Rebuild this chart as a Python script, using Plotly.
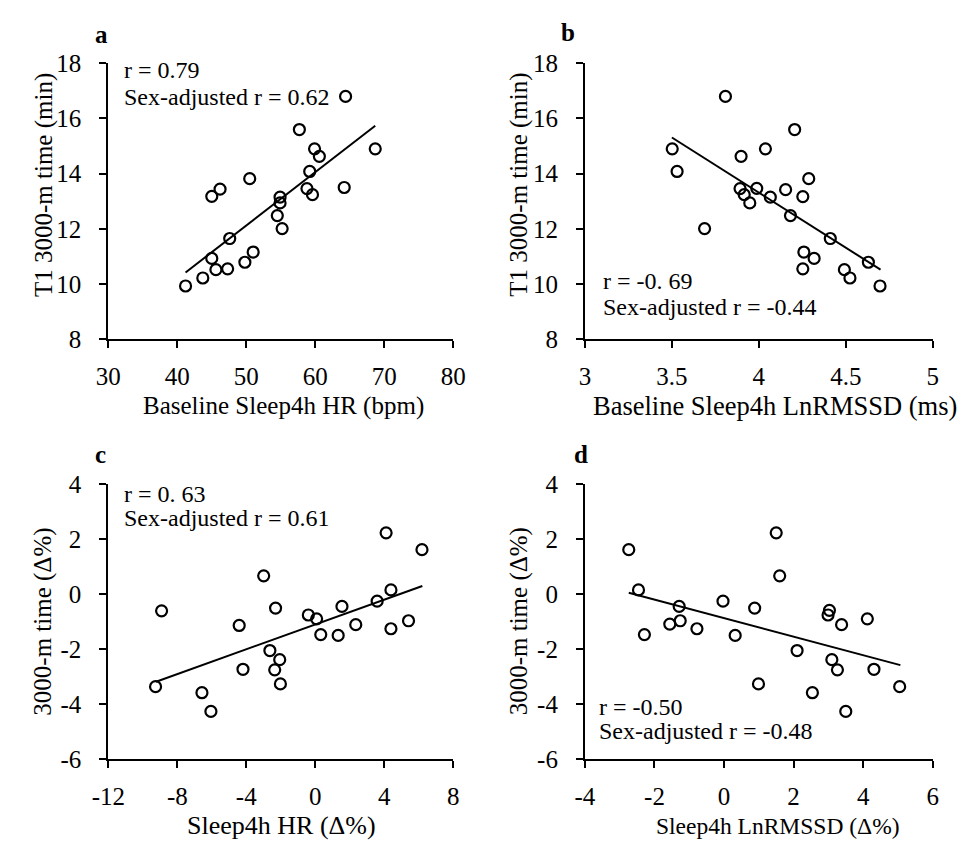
import plotly.graph_objects as go

# ---------------- data ----------------
# Panel a: Baseline Sleep4h HR (bpm) vs T1 3000-m time (min)
a_x = [64.4, 57.7, 59.9, 60.6, 68.7, 59.2, 50.5, 46.2, 45.0, 58.8, 59.6, 64.2,
       54.9, 54.9, 54.5, 55.2, 47.6, 45.0, 51.0, 49.8, 45.6, 47.3, 43.7, 41.2]
a_y = [16.80, 15.60, 14.90, 14.63, 14.90, 14.08, 13.82, 13.44, 13.18, 13.46, 13.24, 13.50,
       13.15, 12.94, 12.48, 12.01, 11.65, 10.93, 11.16, 10.79, 10.52, 10.55, 10.22, 9.93]
a_fit_x = [41.2, 68.7]
a_fit_y = [10.42, 15.74]

# Panel b: Baseline Sleep4h LnRMSSD (ms) vs T1 3000-m time (min)
b_x = [3.808, 4.206, 3.502, 4.038, 3.898, 3.530, 4.287, 3.892, 3.988, 4.154, 3.916, 4.253,
       4.066, 3.948, 4.182, 3.688, 4.411, 4.259, 4.318, 4.630, 4.492, 4.253, 4.524, 4.697]
b_y = [16.80, 15.60, 14.90, 14.90, 14.63, 14.08, 13.82, 13.46, 13.47, 13.42, 13.24, 13.17,
       13.15, 12.94, 12.48, 12.01, 11.65, 11.16, 10.93, 10.79, 10.52, 10.55, 10.22, 9.93]
b_fit_x = [3.50, 4.70]
b_fit_y = [15.31, 10.52]

# Panel c: Sleep4h HR (Δ%) vs 3000-m time (Δ%)
c_x = [4.11, 6.19, -2.99, 4.39, 3.59, 1.55, -2.30, -8.91, -0.40, 0.08, 5.41, 2.35,
       -4.41, 4.39, 0.32, 1.33, -2.63, -2.06, -4.19, -2.35, -2.02, -9.26, -6.57, -6.05]
c_y = [2.22, 1.61, 0.66, 0.15, -0.26, -0.45, -0.51, -0.61, -0.76, -0.90, -0.97, -1.11,
       -1.14, -1.26, -1.47, -1.50, -2.05, -2.38, -2.73, -2.75, -3.26, -3.36, -3.58, -4.26]
c_fit_x = [-9.23, 6.21]
c_fit_y = [-3.18, 0.29]

# Panel d: Sleep4h LnRMSSD (Δ%) vs 3000-m time (Δ%)
d_x = [1.50, -2.74, 1.60, -2.46, -0.03, 0.88, -1.29, 3.03, 2.99, 4.12, -1.26, 3.38,
       -1.56, -0.78, 0.32, -2.29, 2.10, 3.10, 4.31, 3.26, 0.99, 5.05, 2.54, 3.50]
d_y = [2.22, 1.61, 0.66, 0.15, -0.26, -0.51, -0.45, -0.59, -0.76, -0.90, -0.97, -1.11,
       -1.09, -1.26, -1.50, -1.47, -2.05, -2.38, -2.73, -2.75, -3.26, -3.36, -3.58, -4.26]
d_fit_x = [-2.74, 5.07]
d_fit_y = [0.05, -2.58]

panel_labels = ["a", "b", "c", "d"]
x_titles = ["Baseline Sleep4h HR (bpm)", "Baseline Sleep4h LnRMSSD (ms)",
            "Sleep4h HR (Δ%)", "Sleep4h LnRMSSD (Δ%)"]
y_titles = ["T1 3000-m time (min)", "T1 3000-m time (min)",
            "3000-m time (Δ%)", "3000-m time (Δ%)"]
stats_r = ["r = 0.79", "r = -0. 69", "r = 0. 63", "r = -0.50"]
stats_adj = ["Sex-adjusted r = 0.62", "Sex-adjusted r = -0.44",
             "Sex-adjusted r = 0.61", "Sex-adjusted r = -0.48"]

# tick values and labels (reference uses a plain hyphen for negatives)
x_tickvals = [[30, 40, 50, 60, 70, 80], [3, 3.5, 4, 4.5, 5],
              [-12, -8, -4, 0, 4, 8], [-4, -2, 0, 2, 4, 6]]
x_ticktext = [["30", "40", "50", "60", "70", "80"], ["3", "3.5", "4", "4.5", "5"],
              ["-12", "-8", "-4", "0", "4", "8"], ["-4", "-2", "0", "2", "4", "6"]]
y_tickvals = [[8, 10, 12, 14, 16, 18], [8, 10, 12, 14, 16, 18],
              [-6, -4, -2, 0, 2, 4], [-6, -4, -2, 0, 2, 4]]
y_ticktext = [["8", "10", "12", "14", "16", "18"], ["8", "10", "12", "14", "16", "18"],
              ["-6", "-4", "-2", "0", "2", "4"], ["-6", "-4", "-2", "0", "2", "4"]]

# ---------------- layout geometry (page pixels) ----------------
PAGE_W, PAGE_H = 968, 856
OFF = 8                      # default body margin of the html page
W, H = PAGE_W - OFF, PAGE_H - OFF
FONT = "Liberation Serif, Times New Roman, serif"


def fx(p):
    return (p - OFF) / W


def fy(p):
    return 1 - (p - OFF) / H


xdoms = [[fx(94), fx(450)], [fx(586), fx(945)]]
ydoms = [[fy(336.7), fy(51.7)], [fy(770.7), fy(486)]]

stat_px = [(108, 58.3, 86), (602.7, 276.7, 303.3),
           (108.3, 497, 521), (598.3, 716.7, 741.7)]
label_px = [(86.7, 21.7), (569, 20), (85.7, 456), (581.7, 456)]
xtitle_px = [(275, 406, 25), (782, 406, 26.5), (273, 839, 26), (785, 839, 23.5)]
ytitle_px = [(27, 177, 25), (518, 177, 25), (27, 628, 25), (518, 628, 25)]

fig = go.Figure()
data = [(a_x, a_y, a_fit_x, a_fit_y), (b_x, b_y, b_fit_x, b_fit_y),
        (c_x, c_y, c_fit_x, c_fit_y), (d_x, d_y, d_fit_x, d_fit_y)]

for i, (px, py, lx_, ly_) in enumerate(data):
    n = i + 1
    xa = "x" if n == 1 else f"x{n}"
    ya = "y" if n == 1 else f"y{n}"
    fig.add_trace(go.Scatter(x=lx_, y=ly_, mode="lines", xaxis=xa, yaxis=ya,
                             line=dict(color="black", width=2), showlegend=False,
                             hoverinfo="skip"))
    fig.add_trace(go.Scatter(x=px, y=py, mode="markers", xaxis=xa, yaxis=ya,
                             marker=dict(symbol="circle-open", size=11,
                                         color="black", line=dict(width=2.2)),
                             showlegend=False))
    col = i % 2
    row = i // 2
    axis_common = dict(showline=True, linecolor="black", linewidth=2,
                       ticks="outside", ticklen=7, tickwidth=2, tickcolor="black",
                       showgrid=False, zeroline=False, tickmode="array",
                       tickfont=dict(family=FONT, size=25, color="black"))
    fig.update_layout(**{
        ("xaxis" if n == 1 else f"xaxis{n}"): dict(
            domain=xdoms[col], anchor=ya,
            range=[x_tickvals[i][0], x_tickvals[i][-1]],
            tickvals=x_tickvals[i], ticktext=x_ticktext[i],
            ticklabelstandoff=7, **axis_common),
        ("yaxis" if n == 1 else f"yaxis{n}"): dict(
            domain=ydoms[row], anchor=xa,
            range=[y_tickvals[i][0], y_tickvals[i][-1]],
            tickvals=y_tickvals[i], ticktext=y_ticktext[i],
            ticklabelstandoff=13, **axis_common),
    })
    sx, sy1, sy2 = stat_px[i]
    for txt, sy in ((stats_r[i], sy1), (stats_adj[i], sy2)):
        fig.add_annotation(text=txt, xref="paper", yref="paper",
                           x=fx(sx), y=fy(sy), xanchor="left", yanchor="middle",
                           showarrow=False, font=dict(family=FONT, size=24, color="black"))
    plx, ply = label_px[i]
    fig.add_annotation(text=f"<b>{panel_labels[i]}</b>", xref="paper", yref="paper",
                       x=fx(plx), y=fy(ply), xanchor="center", yanchor="middle",
                       showarrow=False, font=dict(family=FONT, size=25, color="black"))
    tx, ty, ts = xtitle_px[i]
    fig.add_annotation(text=x_titles[i], xref="paper", yref="paper",
                       x=fx(tx), y=fy(ty), xanchor="center", yanchor="middle",
                       showarrow=False, font=dict(family=FONT, size=ts, color="black"))
    tx, ty, ts = ytitle_px[i]
    fig.add_annotation(text=y_titles[i], xref="paper", yref="paper", textangle=-90,
                       x=fx(tx), y=fy(ty), xanchor="center", yanchor="middle",
                       showarrow=False, font=dict(family=FONT, size=ts, color="black"))

fig.update_layout(width=W, height=H, margin=dict(l=0, r=0, t=0, b=0),
                  plot_bgcolor="white", paper_bgcolor="white",
                  font=dict(family=FONT, color="black"))

fig.write_html("out.html")
